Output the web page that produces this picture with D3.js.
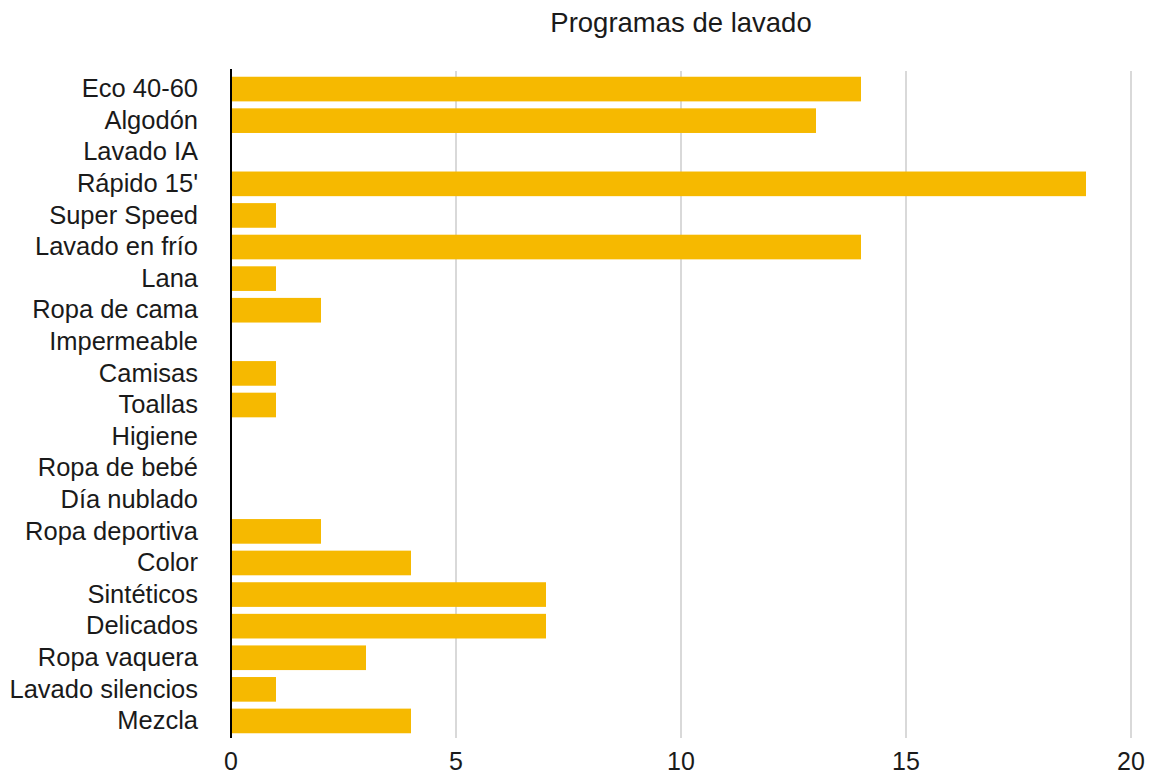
<!DOCTYPE html>
<html>
<head>
<meta charset="utf-8">
<script src="https://cdn.jsdelivr.net/npm/d3@7"></script>
<style>
  body { margin: 0; background: #fff; }
  text { font-family: "Liberation Sans", Arial, sans-serif; fill: #1a1a1a; }
</style>
</head>
<body>
<svg id="chart" width="1155" height="776"></svg>
<script>
// Data
let categories = ["Eco 40-60", "Algodón", "Lavado IA", "Rápido 15'", "Super Speed",
  "Lavado en frío", "Lana", "Ropa de cama", "Impermeable", "Camisas", "Toallas",
  "Higiene", "Ropa de bebé", "Día nublado", "Ropa deportiva", "Color", "Sintéticos",
  "Delicados", "Ropa vaquera", "Lavado silencios", "Mezcla"];
let values = [14, 13, 0, 19, 1, 14, 1, 2, 0, 1, 1, 0, 0, 0, 2, 4, 7, 7, 3, 1, 4];
let xTicks = [0, 5, 10, 15, 20];
let title = "Programas de lavado";

// Layout
let plotLeft = 231, plotRight = 1131, plotTop = 71, plotBottom = 738;
let svg = d3.select("#chart");

let x = d3.scaleLinear().domain([0, 20]).range([plotLeft, plotRight]);
let y = d3.scaleBand().domain(categories).range([plotTop + 1, plotBottom])
  .paddingInner(0.22).paddingOuter(0.15);

// Gridlines
svg.append("g")
  .selectAll("line")
  .data(xTicks.filter(d => d > 0))
  .enter()
  .append("line")
  .attr("x1", d => x(d)).attr("x2", d => x(d))
  .attr("y1", plotTop).attr("y2", plotBottom)
  .attr("stroke", "#cccccc")
  .attr("stroke-width", 1.5);

// Bars
svg.append("g")
  .selectAll("rect")
  .data(categories)
  .enter()
  .append("rect")
  .attr("x", x(0))
  .attr("y", d => y(d))
  .attr("width", (d, i) => x(values[i]) - x(0))
  .attr("height", y.bandwidth())
  .attr("fill", "#f6b900");

// Zero line
svg.append("line")
  .attr("x1", x(0)).attr("x2", x(0))
  .attr("y1", plotTop - 2).attr("y2", plotBottom)
  .attr("stroke", "#000")
  .attr("stroke-width", 2);

// X tick labels
svg.append("g")
  .selectAll("text")
  .data(xTicks)
  .enter()
  .append("text")
  .attr("x", d => x(d))
  .attr("y", 770)
  .attr("text-anchor", "middle")
  .style("font-size", "25px")
  .text(d => d);

// Category labels
svg.append("g")
  .selectAll("text")
  .data(categories)
  .enter()
  .append("text")
  .attr("x", 198)
  .attr("y", d => y(d) + y.bandwidth() / 2)
  .attr("dy", "0.32em")
  .attr("text-anchor", "end")
  .style("font-size", "25.5px")
  .text(d => d);

// Title
svg.append("text")
  .attr("x", (plotLeft + plotRight) / 2)
  .attr("y", 32)
  .attr("text-anchor", "middle")
  .style("font-size", "27.5px")
  .text(title);
</script>
</body>
</html>
